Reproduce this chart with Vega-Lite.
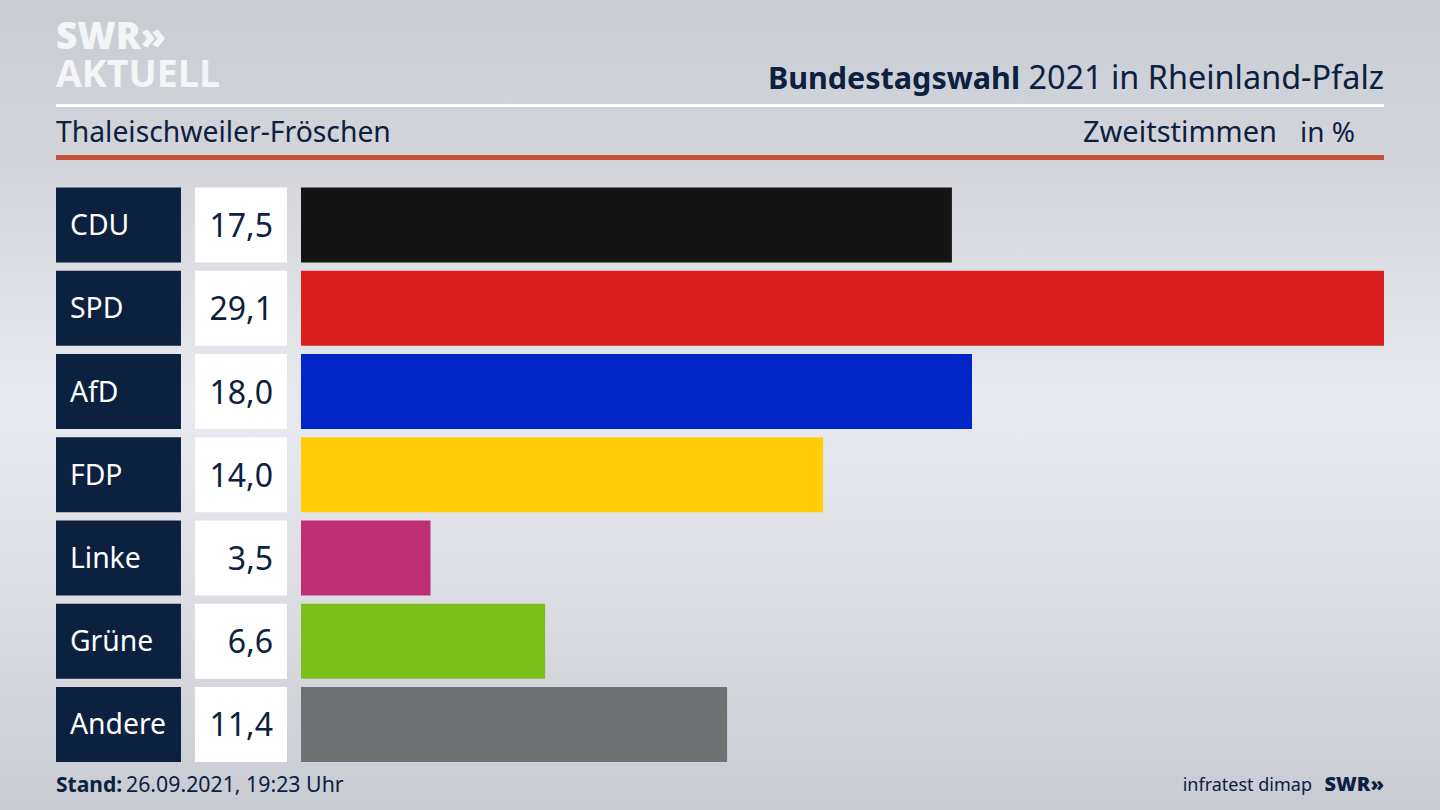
{
"$schema":"https://vega.github.io/schema/vega-lite/v6.json",
"width":1440,"height":810,
"autosize":{"type":"fit","contains":"padding"},
"padding":0,
"background":"#d5d7dd",
"config":{"view":{"stroke":null},"text":{"font":"Noto Sans","color":"#0c2040"}},
"datasets":{
"results":[
{"party":"CDU","share":17.49,"label":"17,5"},
{"party":"SPD","share":29.1,"label":"29,1"},
{"party":"AfD","share":18.03,"label":"18,0"},
{"party":"FDP","share":14.03,"label":"14,0"},
{"party":"Linke","share":3.48,"label":"3,5"},
{"party":"Grüne","share":6.56,"label":"6,6"},
{"party":"Andere","share":11.45,"label":"11,4"}
],
"frame":[{"id":"frame"}]
},
"layer":[
{
"data":{"name":"frame"},
"layer":[
{"mark":{"type":"rect","fill":{"gradient":"linear","x1":0,"y1":0,"x2":0,"y2":1,"stops":[{"offset":0,"color":"#c9ccd3"},{"offset":0.2,"color":"#d3d5db"},{"offset":0.5,"color":"#e9eaef"},{"offset":0.75,"color":"#dcdde3"},{"offset":1,"color":"#c8cbd2"}]}},
 "encoding":{"x":{"datum":0,"type":"quantitative","axis":null,"scale":{"domain":[0,1440],"nice":false,"zero":false}},"x2":{"datum":1440},"y":{"datum":0,"type":"quantitative","axis":null,"scale":{"domain":[810,0],"nice":false,"zero":false}},"y2":{"datum":810}}},
{"mark":{"type":"rect","color":"#ffffff"},"encoding":{"x":{"datum":56,"type":"quantitative","axis":null},"x2":{"datum":1384},"y":{"datum":104,"type":"quantitative","axis":null},"y2":{"datum":107}}},
{"mark":{"type":"rect","color":"#c8503c"},"encoding":{"x":{"datum":56,"type":"quantitative","axis":null},"x2":{"datum":1384},"y":{"datum":155,"type":"quantitative","axis":null},"y2":{"datum":160}}},
{"mark":{"type":"text","text":"SWR»","font":"Open Sans","fontWeight":800,"fontSize":37,"align":"left","baseline":"alphabetic","color":"#f4f5f7"},"encoding":{"x":{"datum":56,"type":"quantitative","axis":null},"y":{"datum":49,"type":"quantitative","axis":null}}},
{"mark":{"type":"text","text":"AKTUELL","font":"Open Sans","fontWeight":700,"fontSize":37.5,"align":"left","baseline":"alphabetic","color":"#f4f5f7"},"encoding":{"x":{"datum":56,"type":"quantitative","axis":null},"y":{"datum":87,"type":"quantitative","axis":null}}},
{"mark":{"type":"text","text":"Bundestagswahl","fontWeight":700,"fontSize":30.5,"align":"right","baseline":"alphabetic"},"encoding":{"x":{"datum":1020,"type":"quantitative","axis":null},"y":{"datum":89,"type":"quantitative","axis":null}}},
{"mark":{"type":"text","text":"2021 in Rheinland-Pfalz","fontSize":32.4,"align":"right","baseline":"alphabetic"},"encoding":{"x":{"datum":1384,"type":"quantitative","axis":null},"y":{"datum":89,"type":"quantitative","axis":null}}},
{"mark":{"type":"text","text":"Thaleischweiler-Fröschen","fontSize":28.3,"align":"left","baseline":"alphabetic"},"encoding":{"x":{"datum":56,"type":"quantitative","axis":null},"y":{"datum":142,"type":"quantitative","axis":null}}},
{"mark":{"type":"text","text":"Zweitstimmen","fontSize":29,"align":"right","baseline":"alphabetic"},"encoding":{"x":{"datum":1277,"type":"quantitative","axis":null},"y":{"datum":142,"type":"quantitative","axis":null}}},
{"mark":{"type":"text","text":"in %","fontSize":28,"align":"right","baseline":"alphabetic"},"encoding":{"x":{"datum":1355,"type":"quantitative","axis":null},"y":{"datum":142,"type":"quantitative","axis":null}}},
{"mark":{"type":"text","text":"Stand:","fontWeight":700,"fontSize":21,"align":"left","baseline":"alphabetic"},"encoding":{"x":{"datum":56,"type":"quantitative","axis":null},"y":{"datum":792,"type":"quantitative","axis":null}}},
{"mark":{"type":"text","text":"26.09.2021, 19:23 Uhr","fontSize":21.3,"align":"left","baseline":"alphabetic"},"encoding":{"x":{"datum":126,"type":"quantitative","axis":null},"y":{"datum":792,"type":"quantitative","axis":null}}},
{"mark":{"type":"text","text":"infratest dimap","fontSize":18,"align":"right","baseline":"alphabetic"},"encoding":{"x":{"datum":1312,"type":"quantitative","axis":null},"y":{"datum":791,"type":"quantitative","axis":null}}},
{"mark":{"type":"text","text":"SWR»","font":"Open Sans","fontWeight":800,"fontSize":20,"align":"right","baseline":"alphabetic"},"encoding":{"x":{"datum":1384,"type":"quantitative","axis":null},"y":{"datum":791,"type":"quantitative","axis":null}}}
]
},
{
"data":{"name":"results"},
"encoding":{
"y":{"field":"party","type":"nominal","axis":null,"scale":{"type":"band","domain":["CDU","SPD","AfD","FDP","Linke","Grüne","Andere"],"range":[187.5,762],"paddingInner":0.099,"paddingOuter":0}}
},
"layer":[
{"mark":{"type":"bar","color":"#0c2040"},"encoding":{"x":{"datum":-6.583,"type":"quantitative","axis":null,"scale":{"domain":[-8.088,30.605],"nice":false,"zero":false}},"x2":{"datum":-3.225}}},
{"mark":{"type":"bar","color":"#ffffff"},"encoding":{"x":{"datum":-2.85,"type":"quantitative","axis":null},"x2":{"datum":-0.376}}},
{"mark":{"type":"bar"},"encoding":{"x":{"field":"share","type":"quantitative","axis":null},"x2":{"datum":0},"color":{"field":"party","type":"nominal","legend":null,"scale":{"domain":["CDU","SPD","AfD","FDP","Linke","Grüne","Andere"],"range":["#141414","#d9201f","#0225c8","#ffcd08","#bf2f74","#7abf1a","#707173"]}}}},
{"mark":{"type":"text","fontSize":28.3,"align":"left","baseline":"middle","dy":2,"color":"#ffffff"},"encoding":{"x":{"datum":-6.207,"type":"quantitative","axis":null},"text":{"field":"party"}}},
{"mark":{"type":"text","fontSize":32,"align":"right","baseline":"middle","dy":2,"color":"#0c2040"},"encoding":{"x":{"datum":-0.752,"type":"quantitative","axis":null},"text":{"field":"label"}}}
]
}
],
"resolve":{"scale":{"x":"independent","y":"independent"}}
}
